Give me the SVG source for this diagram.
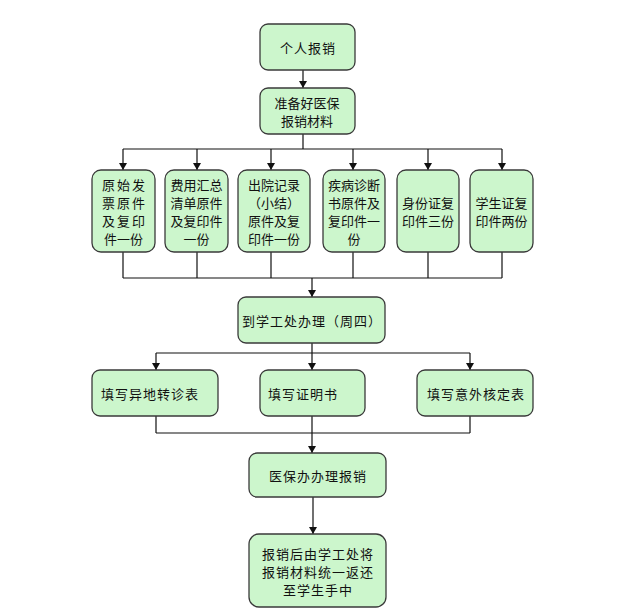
<svg xmlns="http://www.w3.org/2000/svg" width="632" height="615" viewBox="0 0 632 615">
<defs>
<style>
.box{fill:#ccf6cc;stroke:#3a3a3a;stroke-width:1.3}
.t{font-family:"Noto Sans CJK SC","Noto Sans CJK JP",sans-serif;font-size:13px;fill:#111;text-anchor:middle;dominant-baseline:central}
.ts{letter-spacing:2px}
.tw{letter-spacing:1px}
.c{fill:none;stroke:#111;stroke-width:1.2}
</style>
</defs>
<rect width="632" height="615" fill="#fff"/>
<g id="connectors">
<path class="c" d="M303,70 V88"/>
<path class="c" d="M303,134 V149 M123,149 H502"/>
<path class="c" d="M123,149 V170 M197,149 V170 M271,149 V170 M353,149 V170 M428,149 V170 M502,149 V170"/>
<path class="c" d="M123,252 V278 M197,252 V278 M271,252 V278 M353,252 V278 M428,252 V278 M502,252 V278 M123,278 H502 M312,278 V297"/>
<path class="c" d="M312,343 V353 M156,353 H470 M156,353 V370 M312,353 V370 M470,353 V370"/>
<path class="c" d="M156,416 V433 M470,416 V433 M156,433 H470 M312,416 V453"/>
<path class="c" d="M313,497 V534"/>
<g id="arrowheads" fill="#111">
<path d="M299,81 L307,81 L303,88 Z"/>
<path d="M119,163 L127,163 L123,170 Z"/>
<path d="M193,163 L201,163 L197,170 Z"/>
<path d="M267,163 L275,163 L271,170 Z"/>
<path d="M349,163 L357,163 L353,170 Z"/>
<path d="M424,163 L432,163 L428,170 Z"/>
<path d="M498,163 L506,163 L502,170 Z"/>
<path d="M308,290 L316,290 L312,297 Z"/>
<path d="M152,363 L160,363 L156,370 Z"/>
<path d="M308,363 L316,363 L312,370 Z"/>
<path d="M466,363 L474,363 L470,370 Z"/>
<path d="M308,446 L316,446 L312,453 Z"/>
<path d="M309,527 L317,527 L313,534 Z"/>
</g>
</g>
<g id="n1"><rect class="box" x="260" y="24" width="95" height="46" rx="8"/><text class="t tw" x="308" y="47">个人报销</text></g>
<g id="n2"><rect class="box" x="260" y="88" width="95" height="46" rx="8"/><text class="t" x="307" y="102">准备好医保</text><text class="t" x="307" y="120">报销材料</text></g>
<g id="n3"><rect class="box" x="92" y="170" width="63" height="82" rx="9"/><text class="t ts" x="124.5" y="184">原始发</text><text class="t ts" x="124.5" y="202">票原件</text><text class="t ts" x="124.5" y="220">及复印</text><text class="t" x="123.5" y="238">件一份</text></g>
<g id="n4"><rect class="box" x="165" y="170" width="63" height="82" rx="9"/><text class="t" x="196.5" y="184">费用汇总</text><text class="t" x="196.5" y="202">清单原件</text><text class="t" x="196.5" y="220">及复印件</text><text class="t" x="196.5" y="238">一份</text></g>
<g id="n5"><rect class="box" x="238" y="170" width="72" height="82" rx="9"/><text class="t" x="274" y="184">出院记录</text><text class="t" x="274" y="202">（小结）</text><text class="t" x="274" y="220">原件及复</text><text class="t" x="274" y="238">印件一份</text></g>
<g id="n6"><rect class="box" x="323" y="170" width="62" height="82" rx="9"/><text class="t" x="354" y="184">疾病诊断</text><text class="t" x="354" y="202">书原件及</text><text class="t" x="354" y="220">复印件一</text><text class="t" x="354" y="238">份</text></g>
<g id="n7"><rect class="box" x="397" y="170" width="62" height="82" rx="9"/><text class="t" x="428" y="202">身份证复</text><text class="t" x="428" y="220">印件三份</text></g>
<g id="n8"><rect class="box" x="470" y="170" width="63" height="82" rx="9"/><text class="t" x="501.5" y="202">学生证复</text><text class="t" x="501.5" y="220">印件两份</text></g>
<g id="n9"><rect class="box" x="238" y="297" width="147" height="46" rx="8"/><text class="t tw" x="312" y="320">到学工处办理（周四）</text></g>
<g id="n10"><rect class="box" x="92" y="370" width="126" height="46" rx="8"/><text class="t tw" x="150" y="393">填写异地转诊表</text></g>
<g id="n11"><rect class="box" x="260" y="370" width="105" height="46" rx="8"/><text class="t tw" x="303" y="393">填写证明书</text></g>
<g id="n12"><rect class="box" x="417" y="370" width="116" height="46" rx="8"/><text class="t tw" x="476" y="393">填写意外核定表</text></g>
<g id="n13"><rect class="box" x="249" y="453" width="137" height="44" rx="8"/><text class="t tw" x="318" y="475">医保办办理报销</text></g>
<g id="n14"><rect class="box" x="249" y="534" width="137" height="73" rx="10"/><text class="t tw" x="318" y="553">报销后由学工处将</text><text class="t tw" x="318" y="571">报销材料统一返还</text><text class="t tw" x="318" y="589">至学生手中</text></g>
</svg>
